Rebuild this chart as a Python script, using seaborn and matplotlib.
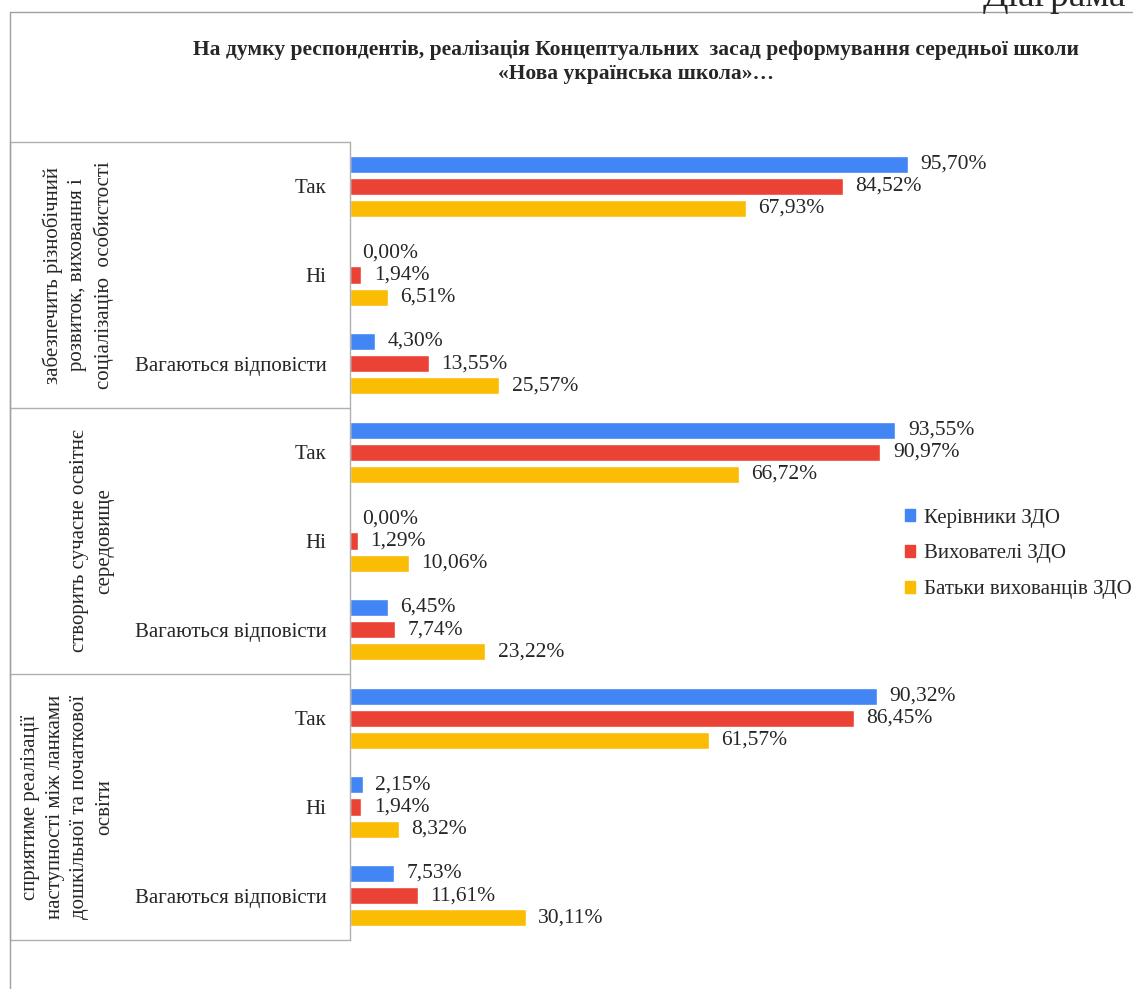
import pandas as pd
import seaborn as sns
import matplotlib.pyplot as plt
from matplotlib.lines import Line2D

# дані з діаграми
groups = ['забезпечить різнобічний\nрозвиток, виховання і\nсоціалізацію  особистості',
          'створить сучасне освітнє\nсередовище',
          'сприятиме реалізації\nнаступності між ланками\nдошкільної та початкової\nосвіти']
answers = ['Так', 'Ні', 'Вагаються відповісти']
series = ['Керівники ЗДО', 'Вихователі ЗДО', 'Батьки вихованців ЗДО']
kerivnyky = [95.70, 0.00, 4.30, 93.55, 0.00, 6.45, 90.32, 2.15, 7.53]
vykhovateli = [84.52, 1.94, 13.55, 90.97, 1.29, 7.74, 86.45, 1.94, 11.61]
batky = [67.93, 6.51, 25.57, 66.72, 10.06, 23.22, 61.57, 8.32, 30.11]
colors = ['#4285F4', '#EA4335', '#FBBC04']

sns.set_theme(style='white')
plt.rcParams['font.family'] = ['Liberation Serif', 'DejaVu Serif']

keys = [f'{g}-{a}' for g in range(len(groups)) for a in answers]
rows = []
for s, vals in zip(series, [kerivnyky, vykhovateli, batky]):
    for k, v in zip(keys, vals):
        rows.append({'key': k, 'value': v, 'series': s})
df = pd.DataFrame(rows)

W, H = 1133, 989
fig = plt.figure(figsize=(W / 100, H / 100), dpi=100)
ax = fig.add_axes([350 / W, 1 - 940 / H, 583 / W, 798 / H])

sns.barplot(data=df, y='key', x='value', hue='series', orient='h', order=keys,
            hue_order=series, palette=colors, width=0.75, gap=0.22,
            saturation=1, ax=ax, legend=False)

ax.set_xlim(0, 100)
ax.set_ylim(8.5, -0.5)
ax.set_xlabel('')
ax.set_ylabel('')
ax.set_xticks([])
ax.set_yticks(range(len(keys)))
ax.set_yticklabels([a for _ in groups for a in answers], fontsize=15)
ax.tick_params(axis='y', length=0, pad=17)
for side in ['top', 'right', 'bottom']:
    ax.spines[side].set_visible(False)
ax.spines['left'].set_color('#b0b0b0')
ax.spines['left'].set_linewidth(1)

for cont in ax.containers:
    labels = [f'{b.get_width():.2f}%'.replace('.', ',') for b in cont]
    ax.bar_label(cont, labels=labels, padding=9, fontsize=15.5)

# рамки груп зліва
ytr = ax.get_yaxis_transform()
left = -340 / 583
for yb in [-0.5, 2.5, 5.5, 8.5]:
    ax.add_line(Line2D([left, 0], [yb, yb], transform=ytr, color='#b0b0b0',
                       lw=1, clip_on=False))
ax.add_line(Line2D([left, left], [-0.5, 8.5], transform=ytr, color='#b0b0b0',
                   lw=1, clip_on=False))
for i, g in enumerate(groups):
    ax.text(-236 / 583, i * 3 + 1, g, transform=ytr, rotation=90, ha='right',
            va='center', multialignment='center', fontsize=15, linespacing=1.4)

# зовнішня рамка
fig.add_artist(Line2D([10 / W, 1], [1 - 12 / H, 1 - 12 / H], color='#a0a0a0', lw=1))
fig.add_artist(Line2D([10 / W, 10 / W], [0, 1 - 12 / H], color='#a0a0a0', lw=1))

fig.text(636 / W, 1 - 62 / H,
         'На думку респондентів, реалізація Концептуальних  засад реформування середньої школи\n«Нова українська школа»…',
         ha='center', va='center', fontsize=15.5, fontweight='bold', linespacing=1.3)
fig.text(983 / W, 1 - 6 / H, 'Діаграма', ha='left', va='baseline', fontsize=27)

handles = [plt.Rectangle((0, 0), 1, 1, color=c) for c in colors]
fig.legend(handles, series, loc='upper left', bbox_to_anchor=(886 / W, 1 - 490 / H),
           frameon=False, fontsize=15, handlelength=0.5, handleheight=0.5,
           handletextpad=0.4, labelspacing=0.8)

fig.savefig('out.png', dpi=100)
